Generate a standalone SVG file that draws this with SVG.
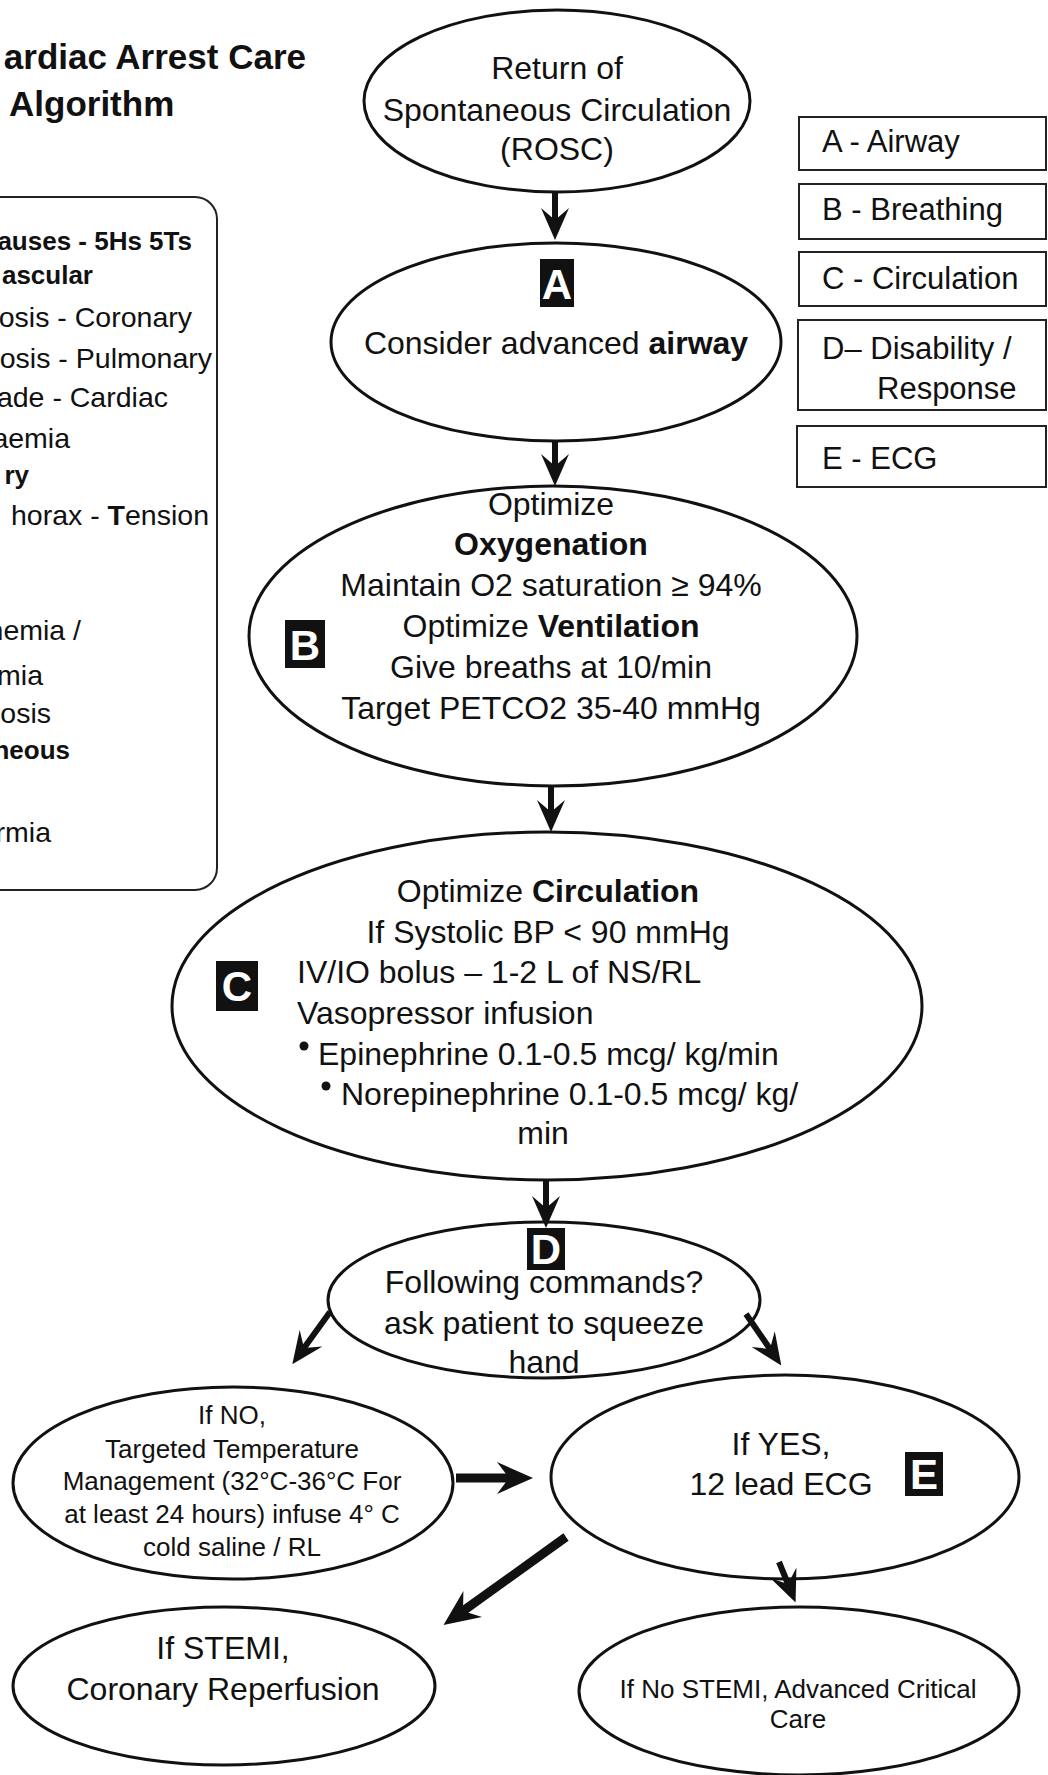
<svg xmlns="http://www.w3.org/2000/svg" width="1048" height="1775" viewBox="0 0 1048 1775">
<defs>
<style>
text { font-family: "Liberation Sans", Arial, sans-serif; fill: #111; }
.m { font-size: 32px; text-anchor: middle; }
.s { font-size: 32px; }
.sm { font-size: 26px; text-anchor: middle; }
.lb { font-size: 28.5px; text-anchor: end; }
.lbb { font-size: 26px; text-anchor: end; font-weight: bold; }
.leg { font-size: 31px; }
.b { font-weight: bold; }
.title { font-size: 35px; font-weight: bold; }
.node { fill: none; stroke: #111; stroke-width: 3; }
.box { fill: none; stroke: #222; stroke-width: 2; }
.conn { stroke: #111; stroke-width: 6; fill: none; marker-end: url(#ah); }
.thick { stroke-width: 9; marker-end: url(#ah2); }
.badge { fill: #111; }
.bt { fill: #fff; font-weight: bold; font-size: 42px; text-anchor: middle; }
</style>
<marker id="ah" markerUnits="userSpaceOnUse" viewBox="0 0 32 30" markerWidth="32" markerHeight="30" refX="12" refY="15" orient="auto">
<path d="M0,1 L32,15 L0,29 L12,15 z" fill="#111"/>
</marker>
<marker id="ah2" markerUnits="userSpaceOnUse" viewBox="0 0 36 34" markerWidth="36" markerHeight="34" refX="12" refY="17" orient="auto">
<path d="M0,1 L36,17 L0,33 L12,17 z" fill="#111"/>
</marker>
</defs>
<rect x="0" y="0" width="1048" height="1775" fill="#fff"/>

<g id="title">
<text class="title" x="306" y="69" text-anchor="end">ardiac Arrest Care</text>
<text class="title" x="9" y="116">Algorithm</text>
</g>

<g id="causes">
<rect class="box" x="-30" y="197" width="247" height="693" rx="22" stroke-width="2.5"/>
<text class="lbb" x="192" y="250">auses - 5Hs 5Ts</text>
<text class="lbb" x="93" y="284">ascular</text>
<text class="lb" x="192" y="327">osis - Coronary</text>
<text class="lb" x="212" y="368">osis - Pulmonary</text>
<text class="lb" x="168" y="407">ade - Cardiac</text>
<text class="lb" x="70" y="448">aemia</text>
<text class="lbb" x="29" y="484">ry</text>
<text class="lb" x="209" y="525">horax - <tspan class="b">T</tspan>ension</text>
<text class="lb" x="81" y="640">hemia /</text>
<text class="lb" x="43" y="685">mia</text>
<text class="lb" x="51" y="723">osis</text>
<text class="lbb" x="70" y="759">neous</text>
<text class="lb" x="51" y="842">rmia</text>
</g>

<g id="legend-a">
<rect class="box" x="799" y="117" width="247" height="53"/>
<text class="leg" x="822" y="152">A - Airway</text>
</g>
<g id="legend-b">
<rect class="box" x="799" y="184" width="247" height="55"/>
<text class="leg" x="822" y="220">B - Breathing</text>
</g>
<g id="legend-c">
<rect class="box" x="799" y="252" width="247" height="54"/>
<text class="leg" x="822" y="289">C - Circulation</text>
</g>
<g id="legend-d">
<rect class="box" x="798" y="320" width="248" height="90"/>
<text class="leg" x="822" y="359">D– Disability /</text>
<text class="leg" x="877" y="399">Response</text>
</g>
<g id="legend-e">
<rect class="box" x="797" y="426" width="249" height="61"/>
<text class="leg" x="822" y="469">E - ECG</text>
</g>

<g id="rosc">
<ellipse class="node" cx="557" cy="101" rx="193" ry="91"/>
<text class="m" x="557" y="79">Return of</text>
<text class="m" x="557" y="121">Spontaneous Circulation</text>
<text class="m" x="557" y="160">(ROSC)</text>
</g>

<g id="airway">
<ellipse class="node" cx="556" cy="342" rx="225" ry="99"/>
<rect class="badge" x="540" y="259" width="34" height="48"/>
<text class="bt" x="557" y="299">A</text>
<text class="m" x="556" y="354">Consider advanced <tspan class="b">airway</tspan></text>
</g>

<g id="breathing">
<ellipse class="node" cx="553" cy="636" rx="304" ry="150"/>
<rect class="badge" x="285" y="620" width="40" height="48"/>
<text class="bt" x="305" y="660">B</text>
<text class="m" x="551" y="515">Optimize</text>
<text class="m b" x="551" y="555">Oxygenation</text>
<text class="m" x="551" y="596">Maintain O2 saturation ≥ 94%</text>
<text class="m" x="551" y="637">Optimize <tspan class="b">Ventilation</tspan></text>
<text class="m" x="551" y="678">Give breaths at 10/min</text>
<text class="m" x="551" y="719">Target PETCO2 35-40 mmHg</text>
</g>

<g id="circulation">
<ellipse class="node" cx="547" cy="1006" rx="375" ry="174"/>
<rect class="badge" x="216" y="961" width="42" height="50"/>
<text class="bt" x="237" y="1001">C</text>
<text class="m" x="548" y="902">Optimize <tspan class="b">Circulation</tspan></text>
<text class="m" x="548" y="943">If Systolic BP &lt; 90 mmHg</text>
<text class="s" x="297" y="983">IV/IO bolus – 1-2 L of NS/RL</text>
<text class="s" x="297" y="1024">Vasopressor infusion</text>
<circle cx="304" cy="1046" r="4.5" fill="#111"/>
<text class="s" x="318" y="1065">Epinephrine 0.1-0.5 mcg/ kg/min</text>
<circle cx="326" cy="1086" r="4.5" fill="#111"/>
<text class="s" x="341" y="1105">Norepinephrine 0.1-0.5 mcg/ kg/</text>
<text class="m" x="543" y="1144">min</text>
</g>

<g id="disability">
<ellipse class="node" cx="544" cy="1300" rx="216" ry="78"/>
<rect class="badge" x="527" y="1228" width="38" height="42"/>
<text class="bt" x="546" y="1264">D</text>
<text class="m" x="544" y="1293">Following commands?</text>
<text class="m" x="544" y="1334">ask patient to squeeze</text>
<text class="m" x="544" y="1373">hand</text>
</g>

<g id="if-no">
<ellipse class="node" cx="233" cy="1483" rx="220" ry="96"/>
<text class="sm" x="232" y="1424">If NO,</text>
<text class="sm" x="232" y="1458">Targeted Temperature</text>
<text class="sm" x="232" y="1490">Management (32°C-36°C For</text>
<text class="sm" x="232" y="1523">at least 24 hours) infuse 4° C</text>
<text class="sm" x="232" y="1556">cold saline / RL</text>
</g>

<g id="if-yes">
<ellipse class="node" cx="785" cy="1477" rx="234" ry="102"/>
<rect class="badge" x="905" y="1452" width="38" height="44"/>
<text class="bt" x="924" y="1489">E</text>
<text class="m" x="781" y="1455">If YES,</text>
<text class="m" x="781" y="1495">12 lead ECG</text>
</g>

<g id="stemi">
<ellipse class="node" cx="224" cy="1686" rx="211" ry="79"/>
<text class="m" x="223" y="1659">If STEMI,</text>
<text class="m" x="223" y="1700">Coronary Reperfusion</text>
</g>

<g id="no-stemi">
<ellipse class="node" cx="799" cy="1691" rx="220" ry="84"/>
<text class="sm" x="798" y="1698">If No STEMI, Advanced Critical</text>
<text class="sm" x="798" y="1728">Care</text>
</g>

<g id="connectors">
<line class="conn" x1="555" y1="192" x2="555" y2="220"/>
<line class="conn" x1="555" y1="441" x2="555" y2="466"/>
<line class="conn" x1="551" y1="786" x2="551" y2="812"/>
<line class="conn" x1="546" y1="1180" x2="546" y2="1208"/>
<line class="conn" x1="330" y1="1312" x2="304" y2="1348"/>
<line class="conn" x1="746" y1="1314" x2="770" y2="1349"/>
<line class="conn thick" x1="456" y1="1478" x2="509" y2="1478"/>
<line class="conn thick" x1="566" y1="1537" x2="463" y2="1611"/>
<line class="conn" x1="779" y1="1562" x2="788" y2="1584"/>
</g>
</svg>
